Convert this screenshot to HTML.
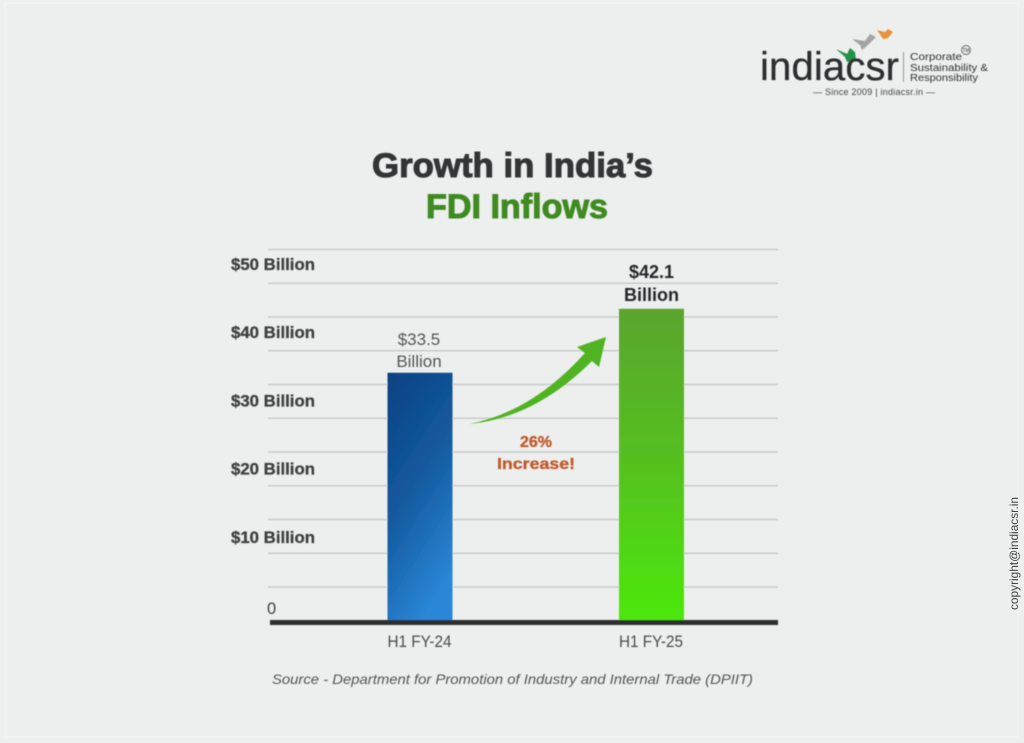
<!DOCTYPE html>
<html lang="en">
<head>
<meta charset="utf-8">
<title>Growth in India's FDI Inflows</title>
<style>
html,body{margin:0;padding:0;background:#ecefee;}
body{width:1024px;height:743px;overflow:hidden;}
svg{display:block;font-family:"Liberation Sans",sans-serif;}
</style>
</head>
<body>
<svg id="chart" width="1024" height="743" viewBox="0 0 1024 743" xmlns="http://www.w3.org/2000/svg">
  <defs>
    <linearGradient id="blueGrad" x1="0.1" y1="0" x2="0.5" y2="1">
      <stop offset="0" stop-color="#0b4384"/>
      <stop offset="0.5" stop-color="#145a9f"/>
      <stop offset="1" stop-color="#2a86d6"/>
    </linearGradient>
    <linearGradient id="greenGrad" x1="0" y1="0" x2="0" y2="1">
      <stop offset="0" stop-color="#5ba52f"/>
      <stop offset="0.5" stop-color="#55c11f"/>
      <stop offset="1" stop-color="#4de80c"/>
    </linearGradient>
    <filter id="soft" x="-5%" y="-5%" width="110%" height="110%"><feGaussianBlur stdDeviation="0.5"/></filter>
  </defs>
  <rect width="1024" height="743" fill="#ecefee"/>
  <rect x="5" y="3" width="1013" height="734" fill="none" stroke="#f2f4f3" stroke-width="1"/>
  <g id="plot" filter="url(#soft)"></g>
  <g filter="url(#soft)" font-weight="700" text-anchor="middle">
    <text x="512.5" y="177" font-size="34" fill="#333535" stroke="#333535" stroke-width="1" textLength="281" lengthAdjust="spacingAndGlyphs">Growth in India’s</text>
    <text x="517" y="218" font-size="34" fill="#418a23" stroke="#418a23" stroke-width="1" textLength="182" lengthAdjust="spacingAndGlyphs">FDI Inflows</text>
  </g>
  <g filter="url(#soft)">
    <path d="M469,424 Q532,412 585,353 L577,347 L606,337 L599,367 L592,361 Q535,418 469,424 Z" fill="#4fb321"/>
    <text x="536" y="447" font-size="16" font-weight="700" fill="#c1592a" text-anchor="middle" stroke="#c1592a" stroke-width="0.3">26%</text>
    <text x="536" y="469" font-size="16" font-weight="700" fill="#c1592a" text-anchor="middle" stroke="#c1592a" stroke-width="0.3" textLength="78" lengthAdjust="spacingAndGlyphs">Increase!</text>
  </g>
  <text filter="url(#soft)" x="272" y="684" font-size="14" font-style="italic" fill="#555" textLength="481" lengthAdjust="spacingAndGlyphs">Source - Department for Promotion of Industry and Internal Trade (DPIIT)</text>
  <g filter="url(#soft)">
    <polygon points="877,30 885,32 888,29 893,32 888,38 883,39" fill="#e8933a"/>
    <polygon points="852,39 865,41 870,34 876,37 867,46 862,50 860,45" fill="#a3a5a4"/>
    <polygon points="836,49 847,54 850,48 855,52 856,60 847,62 845,57" fill="#24914a"/>
    <text x="760" y="80" font-size="40" fill="#2b2d2e" stroke="#2b2d2e" stroke-width="0.3" textLength="139" lengthAdjust="spacing">indiacsr</text>
    <rect x="903" y="52" width="1" height="30" fill="#999"/>
    <text x="910" y="60" font-size="10" fill="#333" textLength="52" lengthAdjust="spacingAndGlyphs">Corporate</text>
    <text x="910" y="71" font-size="10" fill="#333" textLength="78" lengthAdjust="spacingAndGlyphs">Sustainability &amp;</text>
    <text x="910" y="81" font-size="10" fill="#333" textLength="68" lengthAdjust="spacingAndGlyphs">Responsibility</text>
    <circle cx="966" cy="50" r="4.5" fill="none" stroke="#444" stroke-width="0.7"/>
    <text x="966" y="52" font-size="5" fill="#333" text-anchor="middle">TM</text>
    <text x="874" y="95" font-size="9" fill="#444" text-anchor="middle" textLength="122" lengthAdjust="spacing">— Since 2009 | indiacsr.in —</text>
  </g>
  <text transform="translate(1018,610) rotate(-90)" font-size="12" fill="#444" textLength="113" lengthAdjust="spacingAndGlyphs">copyright@indiacsr.in</text>
</svg>
<script>
const categories = ['H1 FY-24', 'H1 FY-25'];
const fdiValues = [33.5, 42.1];
const valueLabels = ['$33.5', '$42.1'];
const tickValues = [0, 10, 20, 30, 40, 50];
const tickLabels = ['0', '$10 Billion', '$20 Billion', '$30 Billion', '$40 Billion', '$50 Billion'];
const gridValues = [0, 1, 2, 3, 4, 5, 6, 7, 8, 9, 10];

const NS = 'http://www.w3.org/2000/svg';
const plot = document.getElementById('plot');
const BASE_Y = 622;
const yBar = v => BASE_Y - v * 7.44;
const yTick = v => v === 0 ? 608 : 605 - v * 6.825;
const yGrid = i => 587 - i * 33.75;
const xCenter = i => 420 + i * 231.5;
const BAR_W = 65;

function add(tag, attrs, text) {
  const el = document.createElementNS(NS, tag);
  for (const k in attrs) el.setAttribute(k, attrs[k]);
  if (text !== undefined) el.textContent = text;
  plot.appendChild(el);
  return el;
}

gridValues.forEach(i => {
  const el = add('rect', {x: 268, y: yGrid(i) - 0.75, width: 510, height: 1.5, fill: '#c9cbca'});
  
  
});

tickValues.forEach((v, i) => {
  const el = add('text', {x: v === 0 ? 267 : 231, y: yTick(v) + 6, 'font-size': 16.5,
    'font-weight': v === 0 ? 400 : 700, fill: '#3f4141', stroke: v === 0 ? 'none' : '#3f4141', 'stroke-width': 0.3}, tickLabels[i]);
  
  
  if (v !== 0) { el.setAttribute('textLength', 84); el.setAttribute('lengthAdjust', 'spacingAndGlyphs'); }
});

categories.forEach((c, i) => {
  const top = yBar(fdiValues[i]);
  const bar = add('rect', {x: xCenter(i) - BAR_W / 2, y: top, width: BAR_W, height: BASE_Y - top,
    fill: i === 0 ? 'url(#blueGrad)' : 'url(#greenGrad)'});
  
  

  const bold = i === 1;
  const size = bold ? 18 : 17;
  const color = bold ? '#26282a' : '#555756';
  const l1 = add('text', {x: xCenter(i) - (bold ? 0 : 1), y: top - (bold ? 31 : 28), 'font-size': size,
    'font-weight': bold ? 700 : 400, fill: color, 'text-anchor': 'middle'}, valueLabels[i]);
  
  
  const l2 = add('text', {x: xCenter(i) - (bold ? 0 : 1), y: top - (bold ? 8 : 6), 'font-size': size,
    'font-weight': bold ? 700 : 400, fill: color, 'text-anchor': 'middle'}, 'Billion');
  
  

  const cat = add('text', {x: xCenter(i) - 0.5, y: 647, 'font-size': 17, fill: '#4a4c4c',
    'text-anchor': 'middle', textLength: 64, lengthAdjust: 'spacingAndGlyphs'}, c);
  
  
});

const axis = add('rect', {x: 270, y: 620, width: 508, height: 5, fill: '#2f2f2f'});


</script>
</body>
</html>
